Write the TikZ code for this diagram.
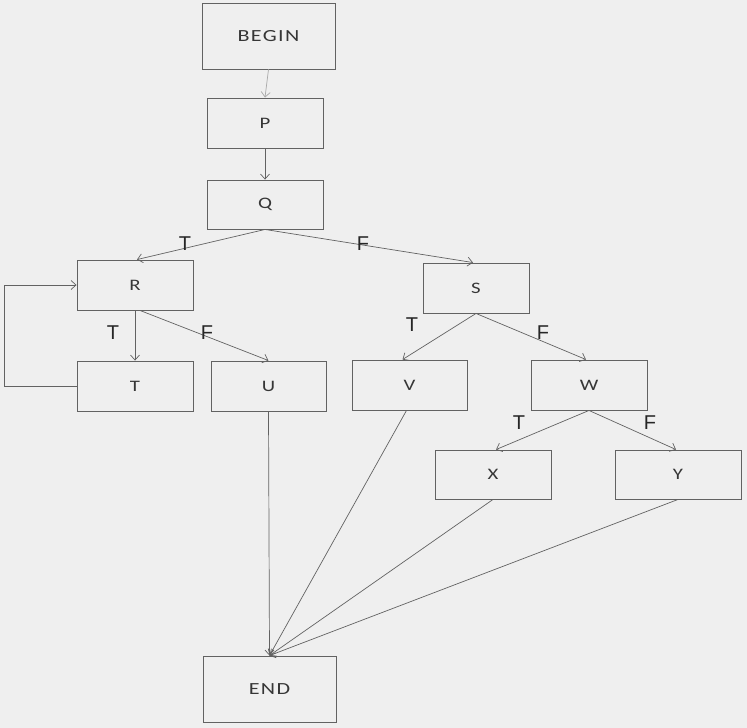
\documentclass[tikz,border=0pt]{standalone}
\usepackage{fontspec}
\usetikzlibrary{arrows.meta}
\newfontfamily\boxfont[FakeStretch=1.3,LetterSpace=8]{Carlito}
\newfontfamily\lblfont{Liberation Sans}
\definecolor{bg}{HTML}{EFEFEF}
\definecolor{edge}{HTML}{626262}
\definecolor{txt}{HTML}{363636}
\begin{document}
\begin{tikzpicture}[x=1pt,y=-1pt,
  box/.style={draw=edge,line width=0.9pt,inner sep=0pt,minimum width=116pt,minimum height=50pt,text=txt,font=\boxfont\fontsize{16}{16}\selectfont},
  bigbox/.style={box,minimum width=133pt,minimum height=66pt,font=\boxfont\fontsize{17}{17}\selectfont},
  conn/.style={draw=edge,line width=0.7pt,-{Straight Barb[length=5pt,width=9pt]}},
  lbl/.style={text=txt!70!black,font=\lblfont\fontsize{20}{20}\selectfont,inner sep=0pt}]
\fill[bg] (0,0) rectangle (747,728);
\useasboundingbox (0,0) rectangle (747,728);
\node[bigbox] (begin) at (268.5,36) {BEGIN};
\node[box] (p) at (265,123) {P};
\node[box,minimum height=49pt] (q) at (265,204.5) {Q};
\node[box] (r) at (135,285) {R};
\node[box,minimum width=106pt] (s) at (476,288) {S};
\node[box] (t) at (135,386) {T};
\node[box,minimum width=115pt] (u) at (268.5,386) {U};
\node[box,minimum width=115pt] (v) at (409.5,385) {V};
\node[box] (w) at (589,385) {W};
\node[box,minimum height=49pt] (x) at (493,474.5) {X};
\node[box,minimum width=126pt,minimum height=49pt] (y) at (678,474.5) {Y};
\node[bigbox] (end) at (269.5,689) {END};
\draw[conn,draw=edge!55] (begin.south) -- (p.north);
\draw[conn] (p.south) -- (q.north);
\draw[conn] (q.south) -- ([xshift=2pt]r.north);
\draw[conn] (q.south) -- ([xshift=-3pt]s.north);
\draw[conn] (r.south) -- (t.north);
\draw[conn] ([xshift=5pt]r.south) -- (u.north);
\draw[conn] (s.south) -- ([xshift=-7pt]v.north);
\draw[conn] (s.south) -- ([xshift=-3pt]w.north);
\draw[conn] (w.south) -- ([xshift=3pt]x.north);
\draw[conn] (w.south) -- ([xshift=-2pt]y.north);
\draw[conn] (t.west) -- ++(-72,0) |- (r.west);
\draw[conn] (u.south) -- (end.north);
\draw[conn] ([xshift=-3pt]v.south) -- (end.north);
\draw[conn] (x.south) -- (end.north);
\draw[conn] (y.south) -- (end.north);
\node[lbl] (l1) at (185,244) {T};
\node[lbl] (l2) at (363,244) {F};
\node[lbl] (l3) at (113,333) {T};
\node[lbl] (l4) at (207,333) {F};
\node[lbl] (l5) at (412,325) {T};
\node[lbl] (l6) at (543,333) {F};
\node[lbl] (l7) at (519,423) {T};
\node[lbl] (l8) at (650,423) {F};
\end{tikzpicture}
\end{document}
